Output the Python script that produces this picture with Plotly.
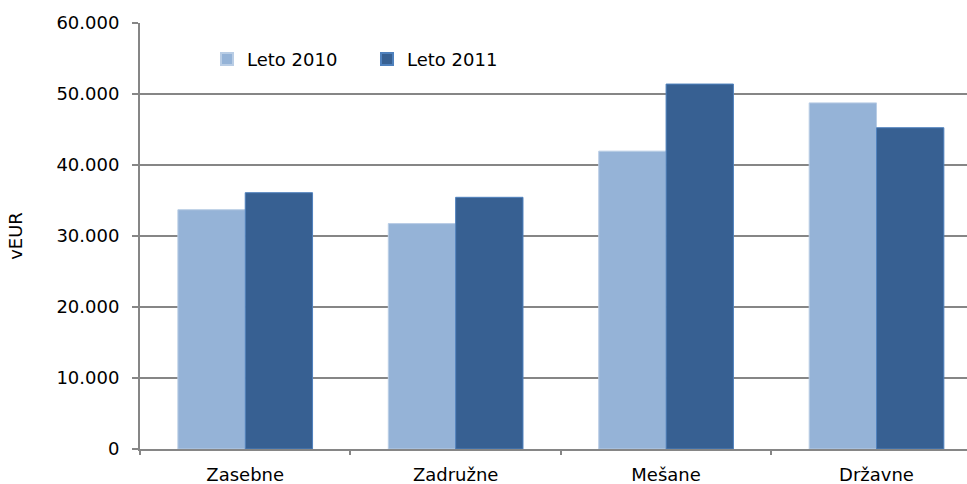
import plotly.graph_objects as go

categories = ["Zasebne", "Zadružne", "Mešane", "Državne"]
leto_2010 = [33700, 31750, 41950, 48750]
leto_2011 = [36100, 35450, 51400, 45250]
y_ticks = [0, 10000, 20000, 30000, 40000, 50000, 60000]

FONT = "DejaVu Sans"
GRID = "#868686"

fig = go.Figure()
fig.add_trace(go.Bar(name="Leto 2010", x=categories, y=leto_2010,
                     marker=dict(color="#95B3D7", line=dict(color="#B9CDE5", width=1))))
fig.add_trace(go.Bar(name="Leto 2011", x=categories, y=leto_2011,
                     marker=dict(color="#376092", line=dict(color="#4F81BD", width=1))))

fig.update_layout(
    width=967, height=484,
    margin=dict(l=140, r=0, t=23, b=35),
    paper_bgcolor="white", plot_bgcolor="white",
    barmode="group", bargap=0.36, bargroupgap=0,
    separators=",.",
    font=dict(family=FONT, size=18, color="black"),
    legend=dict(orientation="h", x=0.081, y=0.915, xanchor="left", yanchor="middle",
                bgcolor="rgba(0,0,0,0)", font=dict(size=18),
                entrywidth=115, entrywidthmode="pixels", itemsizing="constant"),
    showlegend=True,
)
fig.update_xaxes(
    type="category", range=[-0.5, 3.43], automargin=False,
    showline=True, linecolor=GRID, linewidth=2,
    ticks="outside", tickson="boundaries", ticklen=4, tickcolor=GRID, tickwidth=1.5,
    ticklabelstandoff=8, showgrid=False,
)
fig.update_yaxes(
    range=[0, 60000], tickvals=y_ticks, tickformat=",d", automargin=False,
    showline=True, linecolor=GRID, linewidth=2,
    ticks="outside", ticklen=6, tickcolor=GRID, tickwidth=1.5,
    showgrid=True, gridcolor=GRID, gridwidth=1.5,
    ticklabelstandoff=9,
    title=dict(text="vEUR", font=dict(size=18), standoff=29),
    zeroline=False,
)

fig.write_html(
    "out.html",
    config={"displayModeBar": False},
    post_script="document.body.style.margin='0';document.body.style.overflow='hidden';",
)
